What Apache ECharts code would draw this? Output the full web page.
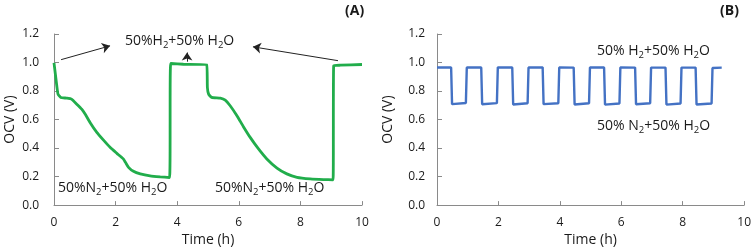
<!DOCTYPE html>
<html><head><meta charset="utf-8">
<script src="https://cdn.jsdelivr.net/npm/echarts@6/dist/echarts.min.js"></script>
<style>html,body{margin:0;padding:0;background:#fff}#c{width:754px;height:252px}</style>
</head><body><div id="c"></div>
<script>
// Panel A: OCV vs time, switching H2 / N2 (green)
const timeA = [0, 0.02, 0.09, 0.13, 0.22, 0.41, 0.57, 0.74, 0.9, 1.01, 1.17, 1.39, 1.6, 1.82, 2.04, 2.25, 2.32, 2.42, 2.58, 2.8, 3.12, 3.45, 3.75,
  3.79, 4.2, 4.96, 4.98, 5.02, 5.12, 5.4, 5.56, 5.72, 5.94, 6.15, 6.37, 6.64, 6.91, 7.24, 7.56, 7.89, 8.32, 8.75, 9.06,
  9.08, 9.3, 10.0];
const ocvA = [0.998, 1.0, 0.837, 0.778, 0.755, 0.75, 0.743, 0.708, 0.673, 0.639, 0.58, 0.51, 0.457, 0.405, 0.363, 0.324, 0.30, 0.265, 0.237, 0.219, 0.205, 0.198, 0.193,
  0.993, 0.988, 0.984, 0.825, 0.778, 0.755, 0.75, 0.736, 0.697, 0.627, 0.55, 0.475, 0.394, 0.324, 0.26, 0.219, 0.195, 0.184, 0.179, 0.177,
  0.977, 0.981, 0.986];
// Panel B: cyclic switching (blue)
const timeB = [0, 0.46, 0.49, 0.55, 0.94, 0.97, 1.44, 1.47, 1.95, 1.98, 2.45, 2.48, 2.95, 2.98, 3.44, 3.47, 3.95, 3.98,
  4.45, 4.48, 4.95, 4.98, 5.44, 5.47, 5.94, 5.97, 6.45, 6.48, 6.94, 6.97, 7.44, 7.47, 7.93, 7.96, 8.42, 8.45, 8.94, 8.97, 9.27];
const ocvB = [0.965, 0.965, 0.708, 0.706, 0.716, 0.965, 0.965, 0.707, 0.715, 0.966, 0.965, 0.706, 0.714, 0.965, 0.966, 0.708, 0.714, 0.965,
  0.964, 0.706, 0.714, 0.965, 0.965, 0.705, 0.713, 0.965, 0.964, 0.707, 0.714, 0.964, 0.964, 0.705, 0.713, 0.964, 0.964, 0.706, 0.713, 0.962, 0.964];
const yTicks = ['0.0', '0.2', '0.4', '0.6', '0.8', '1.0', '1.2'];
const xTicks = ['0', '2', '4', '6', '8', '10'];
// arrows in panel A: [fromTime, fromOCV, toTime, toOCV]
const arrowsA = [[0.23, 1.02, 1.82, 1.117], [9.22, 1.013, 6.46, 1.11], [4.32, 1.006, 4.32, 1.07]];

const FONT = 'Open Sans';
const TXT = '#1a1a1a';
const AX = '#8a8a8a';

function pairs(xs, ys) { return xs.map((x, i) => [x, ys[i]]); }

function xAxis(gi) {
  return {
    gridIndex: gi, type: 'value', min: 0, max: 10, interval: 2,
    name: 'Time (h)', nameLocation: 'middle', nameGap: 24,
    nameTextStyle: { fontFamily: FONT, fontSize: 14, color: TXT },
    axisLine: { lineStyle: { color: AX, width: 1 } },
    axisTick: { inside: true, length: 4, lineStyle: { color: AX } },
    axisLabel: { fontFamily: FONT, fontSize: 12, color: TXT, margin: 11,
      formatter: v => xTicks[Math.round(v / 2)] },
    splitLine: { show: false }
  };
}
function yAxis(gi, gap, lm) {
  return {
    gridIndex: gi, type: 'value', min: 0, max: 1.2, interval: 0.2,
    name: 'OCV (V)', nameLocation: 'middle', nameGap: gap,
    nameTextStyle: { fontFamily: FONT, fontSize: 14, color: TXT },
    axisLine: { show: true, lineStyle: { color: AX, width: 1 } },
    axisTick: { show: true, inside: true, length: 5, lineStyle: { color: AX } },
    axisLabel: { fontFamily: FONT, fontSize: 12, color: TXT, margin: lm,
      formatter: v => yTicks[Math.round(v / 0.2)] },
    splitLine: { show: false }
  };
}
const rich = {
  m: { fontFamily: FONT, fontSize: 14, lineHeight: 18, fill: TXT },
  s: { fontFamily: FONT, fontSize: 9.5, lineHeight: 10, verticalAlign: 'bottom', fill: TXT }
};
function label(x, y, txt) {
  return { type: 'text', left: x, top: y, silent: true,
    style: { text: txt, rich: rich, fill: TXT, font: '14px "Open Sans"' } };
}

const chart = echarts.init(document.getElementById('c'), null, { renderer: 'canvas' });
chart.setOption({
  animation: false,
  backgroundColor: '#fff',
  grid: [
    { left: 54, right: 392, top: 34, bottom: 45 },
    { left: 437, right: 9, top: 34, bottom: 45 }
  ],
  xAxis: [xAxis(0), xAxis(1)],
  yAxis: [yAxis(0, 37, 15), yAxis(1, 42, 12)],
  series: [
    { type: 'line', xAxisIndex: 0, yAxisIndex: 0, data: pairs(timeA, ocvA), showSymbol: false, symbol: 'none',
      smooth: 0.15,
      lineStyle: { color: '#21ad4b', width: 2.8 }, itemStyle: { color: '#21ad4b' },
      markLine: { silent: true, symbol: ['none', 'arrow'], symbolSize: 8,
        lineStyle: { color: '#222', width: 1, type: 'solid' }, label: { show: false },
        emphasis: { disabled: true },
        data: arrowsA.map(a => [{ coord: [a[0], a[1]] }, { coord: [a[2], a[3]] }]) } },
    { type: 'line', xAxisIndex: 1, yAxisIndex: 1, data: pairs(timeB, ocvB), showSymbol: false, symbol: 'none',
      lineStyle: { color: '#4472c4', width: 2.4 }, itemStyle: { color: '#4472c4' } }
  ],
  graphic: [
    label(125, 34, '{m|50%H}{s|2}{m|+50% H}{s|2}{m|O}'),
    label(58, 181, '{m|50%N}{s|2}{m|+50% H}{s|2}{m|O}'),
    label(215, 181, '{m|50%N}{s|2}{m|+50% H}{s|2}{m|O}'),
    label(597, 44, '{m|50% H}{s|2}{m|+50% H}{s|2}{m|O}'),
    label(597, 119, '{m|50% N}{s|2}{m|+50% H}{s|2}{m|O}'),
    { type: 'text', left: 345, top: 4, style: { text: '(A)', font: 'bold 14px "Open Sans"', fill: TXT } },
    { type: 'text', left: 720, top: 4, style: { text: '(B)', font: 'bold 14px "Open Sans"', fill: TXT } }
  ]
});
</script></body></html>
